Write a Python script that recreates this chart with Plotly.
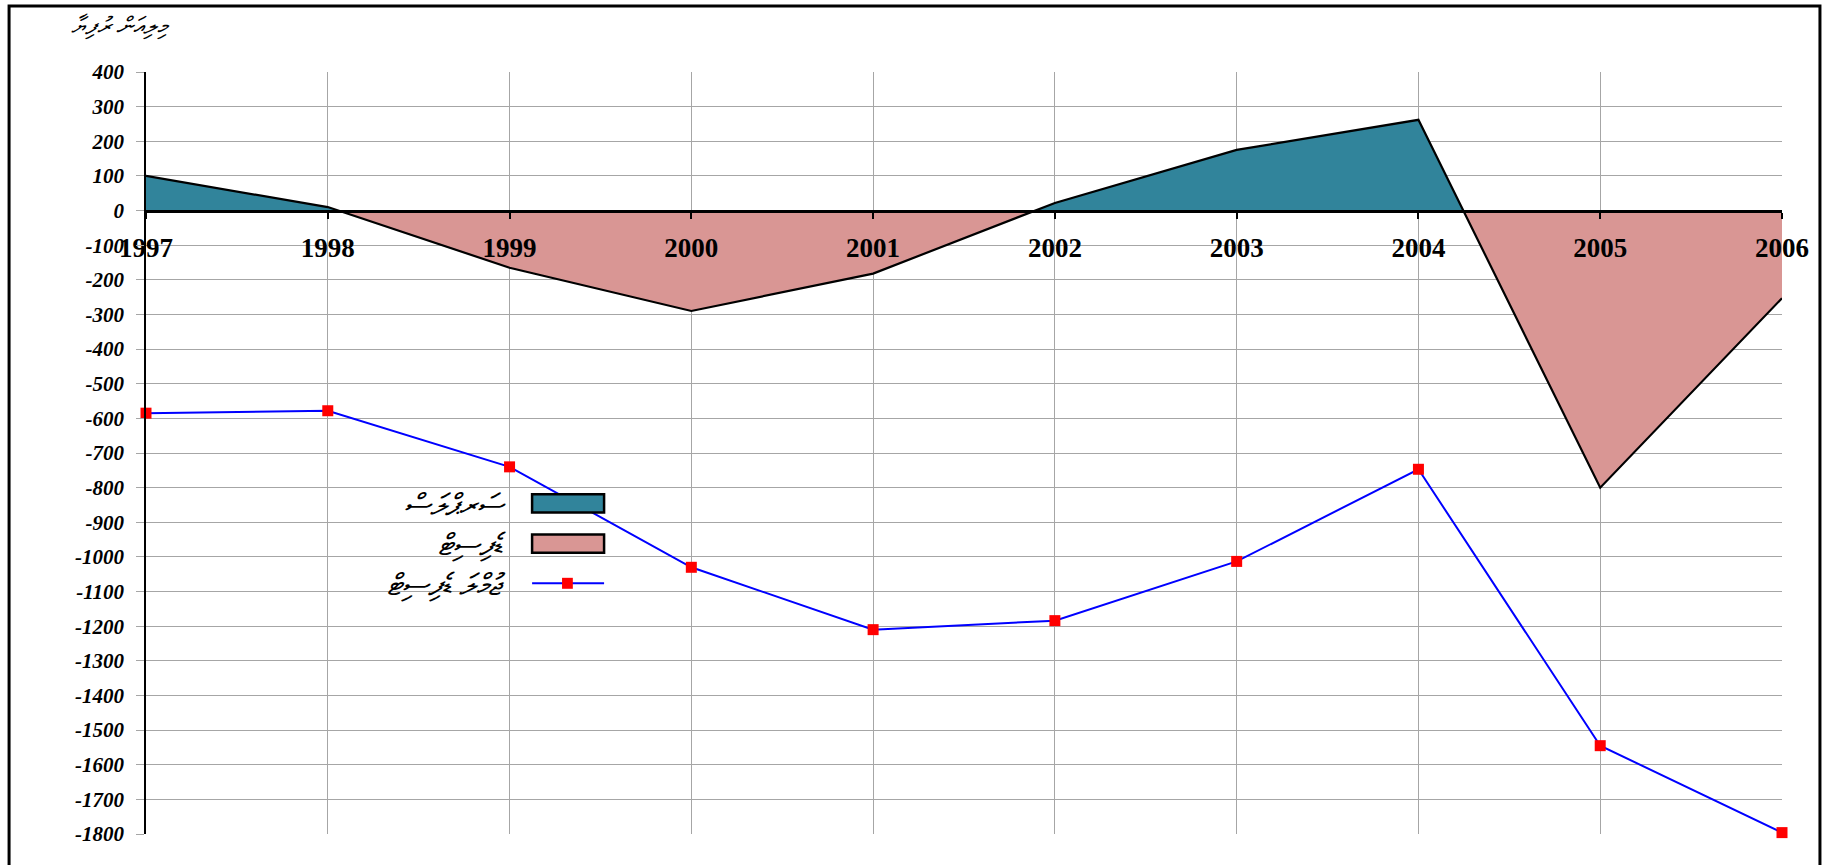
import plotly.graph_objects as go

# --- data (million rufiyaa) ---
years = [1997, 1998, 1999, 2000, 2001, 2002, 2003, 2004, 2005, 2006]
net_balance = [100, 10, -165, -290, -182, 22, 175, 262, -800, -253]
total_deficit = [-585, -578, -740, -1030, -1210, -1184, -1013, -747, -1545, -1796]

title_text = "މިލިއަން ރުފިޔާ"
label_surplus = "ސަރޕްލަސް"
label_deficit = "ޑެފިސިޓް"
label_total = "ޖުމްލަ ޑެފިސިޓް"

y_min, y_max = -1800, 400
y_ticks = list(range(y_min, y_max + 1, 100))

TEAL = "#31849B"
PINK = "#D99694"
GRID = "#A6A6A6"
SERIF = "Liberation Serif, Times New Roman, serif"
THAANA = "Noto Sans, DejaVu Sans, sans-serif"


def split_at_zero(xs, ys):
    """Insert the zero crossings so the area can be coloured by sign."""
    px, py = [xs[0]], [ys[0]]
    for i in range(1, len(xs)):
        y0, y1 = ys[i - 1], ys[i]
        if y0 * y1 < 0:
            t = y0 / (y0 - y1)
            px.append(xs[i - 1] + t * (xs[i] - xs[i - 1]))
            py.append(0)
        px.append(xs[i])
        py.append(ys[i])
    return px, py


ax, ay = split_at_zero(years, net_balance)

fig = go.Figure()

# --- surplus / deficit areas ---
fig.add_trace(go.Scatter(
    x=ax, y=[max(v, 0) for v in ay], fill="tozeroy", mode="lines",
    fillcolor=TEAL, line=dict(width=0, color=TEAL), showlegend=False, hoverinfo="skip"
))
fig.add_trace(go.Scatter(
    x=ax, y=[min(v, 0) for v in ay], fill="tozeroy", mode="lines",
    fillcolor=PINK, line=dict(width=0, color=PINK), showlegend=False, hoverinfo="skip"
))
# outline of the area
fig.add_trace(go.Scatter(
    x=years, y=net_balance, mode="lines",
    line=dict(color="black", width=2.2), showlegend=False
))

# --- total deficit line ---
fig.add_trace(go.Scatter(
    x=years, y=total_deficit, mode="lines+markers",
    line=dict(color="#0000FF", width=2),
    marker=dict(symbol="square", size=11, color="#FF0000"),
    cliponaxis=False, showlegend=False
))

zero_pos = (0 - y_min) / (y_max - y_min)

fig.update_layout(
    width=1827, height=865,
    paper_bgcolor="white", plot_bgcolor="white",
    margin=dict(l=146, r=45, t=72, b=31),
    showlegend=False,
    xaxis=dict(
        range=[1997, 2006], tickvals=years, ticktext=[str(y) for y in years],
        anchor="free", position=zero_pos,
        showline=True, linecolor="black", linewidth=3,
        ticks="outside", ticklen=6, tickwidth=2, tickcolor="black",
        ticklabelstandoff=6,
        showgrid=True, gridcolor=GRID, gridwidth=1, zeroline=False,
        tickfont=dict(family=SERIF, size=27, color="black", weight="bold"),
    ),
    yaxis=dict(
        range=[y_min, y_max], tickvals=y_ticks,
        ticktext=[f"<i>{v}</i>" for v in y_ticks], domain=[0, 1],
        showline=True, linecolor="black", linewidth=1.5,
        ticks="outside", ticklen=8, tickcolor=GRID,
        ticklabelstandoff=8,
        showgrid=True, gridcolor=GRID, gridwidth=1, zeroline=False,
        tickfont=dict(family=SERIF, size=21, color="black", weight="bold", style="italic"),
    ),
)

# --- hand-built legend (text to the left of the keys) ---
legend_rows = [
    (label_surplus, 0.434, "box", TEAL),
    (label_deficit, 0.381, "box", PINK),
    (label_total, 0.329, "line", None),
]
for text, yc, kind, col in legend_rows:
    fig.add_annotation(
        xref="paper", yref="paper", x=0.221, y=yc, text=text, showarrow=False,
        xanchor="right", yanchor="middle",
        font=dict(family=THAANA, size=30, color="black", style="italic"),
    )
    if kind == "box":
        fig.add_shape(type="rect", xref="paper", yref="paper",
                      x0=0.236, x1=0.280, y0=yc - 0.012, y1=yc + 0.012,
                      fillcolor=col, line=dict(color="black", width=2.5))
    else:
        fig.add_shape(type="line", xref="paper", yref="paper",
                      x0=0.236, x1=0.280, y0=yc, y1=yc,
                      line=dict(color="#0000FF", width=2))
        fig.add_shape(type="rect", xref="paper", yref="paper",
                      x0=0.2543, x1=0.2609, y0=yc - 0.0072, y1=yc + 0.0072,
                      fillcolor="#FF0000", line=dict(width=0))

# unit caption
fig.add_annotation(
    xref="paper", yref="paper", x=-0.047, y=1.062, text=title_text, showarrow=False,
    xanchor="left", yanchor="middle",
    font=dict(family=THAANA, size=24, color="black", style="italic"),
)

# outer chart frame
fig.add_shape(type="rect", xref="paper", yref="paper",
              x0=-0.0837, x1=1.0232, y0=-0.06, y1=1.0866,
              line=dict(color="black", width=3), fillcolor="rgba(0,0,0,0)", layer="above")

# drop the default page margin so the figure sits at the window's corner
fig.write_html("out.html", config={"displayModeBar": False},
               post_script="document.body.style.margin='0';")
